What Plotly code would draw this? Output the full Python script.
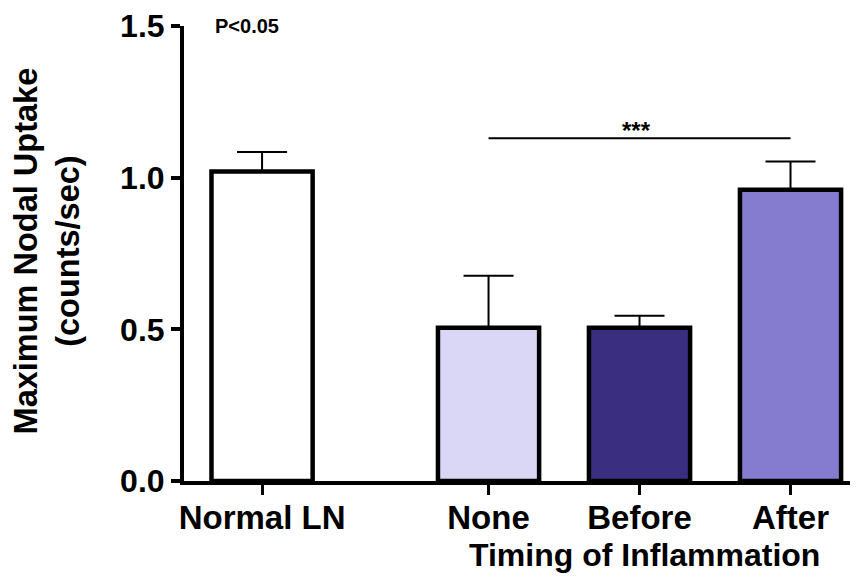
import plotly.graph_objects as go

# ---- data ----
categories = ["Normal LN", "None", "Before", "After"]
means = [1.02, 0.505, 0.505, 0.96]
errors_up = [0.065, 0.172, 0.04, 0.093]
y_ticks = [0.0, 0.5, 1.0, 1.5]
y_tick_labels = ["0.0", "0.5", "1.0", "1.5"]
sig_label = "***"
sig_level = 1.13
p_note = "P<0.05"
y_title = "Maximum Nodal Uptake<br>(counts/sec)"
x_title = "Timing of Inflammation"

# ---- style ----
bar_colors = ["#ffffff", "#dad6f5", "#3a2e80", "#857ccf"]
FONT = "Liberation Sans, Arial, sans-serif"

# positions: gap of half a slot between control and the three groups
x_pos = [i + (0.5 if i > 0 else 0.0) for i in range(len(categories))]

fig = go.Figure()
fig.add_trace(go.Bar(
    x=x_pos, y=means, width=0.67,
    marker=dict(color=bar_colors, line=dict(color="#000000", width=4.5)),
    error_y=dict(type="data", symmetric=False, array=errors_up,
                 arrayminus=[0] * len(means), color="#000000",
                 thickness=2, width=25),
    showlegend=False, hoverinfo="skip",
))

# significance bracket between None and After
fig.add_trace(go.Scatter(
    x=[x_pos[1], x_pos[3]], y=[sig_level, sig_level], mode="lines",
    line=dict(color="#000000", width=2), showlegend=False, hoverinfo="skip",
))

fig.add_annotation(x=(x_pos[1] + x_pos[3]) / 2 - 0.02, y=sig_level, xref="x", yref="y",
                   text=sig_label, showarrow=False, yanchor="bottom", yshift=-8,
                   font=dict(family=FONT, size=24, color="#000000", weight="bold"))
fig.add_annotation(x=0.043, y=1.0, xref="paper", yref="paper",
                   text=p_note, showarrow=False, xanchor="left", yanchor="middle",
                   font=dict(family=FONT, size=20, color="#000000", weight="bold"))
fig.add_annotation(x=-0.203, y=0.505, xref="paper", yref="paper",
                   text=y_title, showarrow=False, textangle=-90,
                   xanchor="center", yanchor="middle",
                   font=dict(family=FONT, size=32.5, color="#000000", weight="bold"))
fig.add_annotation(x=x_pos[2] + 0.03, y=-0.162, xref="x", yref="paper",
                   text=x_title, showarrow=False, xanchor="center", yanchor="middle",
                   font=dict(family=FONT, size=32, color="#000000", weight="bold"))

# page body has an 8px default margin, so shrink the figure by that much
fig.update_layout(
    width=850, height=574,
    margin=dict(l=176, r=0, t=18, b=101, autoexpand=False),
    paper_bgcolor="#ffffff", plot_bgcolor="#ffffff",
    xaxis=dict(range=[-0.517, 3.947], tickvals=x_pos, ticktext=categories,
               automargin=False, ticklabelstandoff=-6,
               showgrid=False, zeroline=False, showline=True, linecolor="#000000",
               linewidth=4, ticks="outside", ticklen=10, tickwidth=3,
               tickcolor="#000000",
               tickfont=dict(family=FONT, size=33, color="#000000", weight="bold")),
    yaxis=dict(range=[0, 1.5], tickvals=y_ticks, ticktext=y_tick_labels,
               automargin=False,
               showgrid=False, zeroline=False, showline=True, linecolor="#000000",
               linewidth=4, ticks="outside", ticklen=9, tickwidth=4,
               tickcolor="#000000",
               tickfont=dict(family=FONT, size=32, color="#000000", weight="bold")),
)

fig.write_html("out.html")
